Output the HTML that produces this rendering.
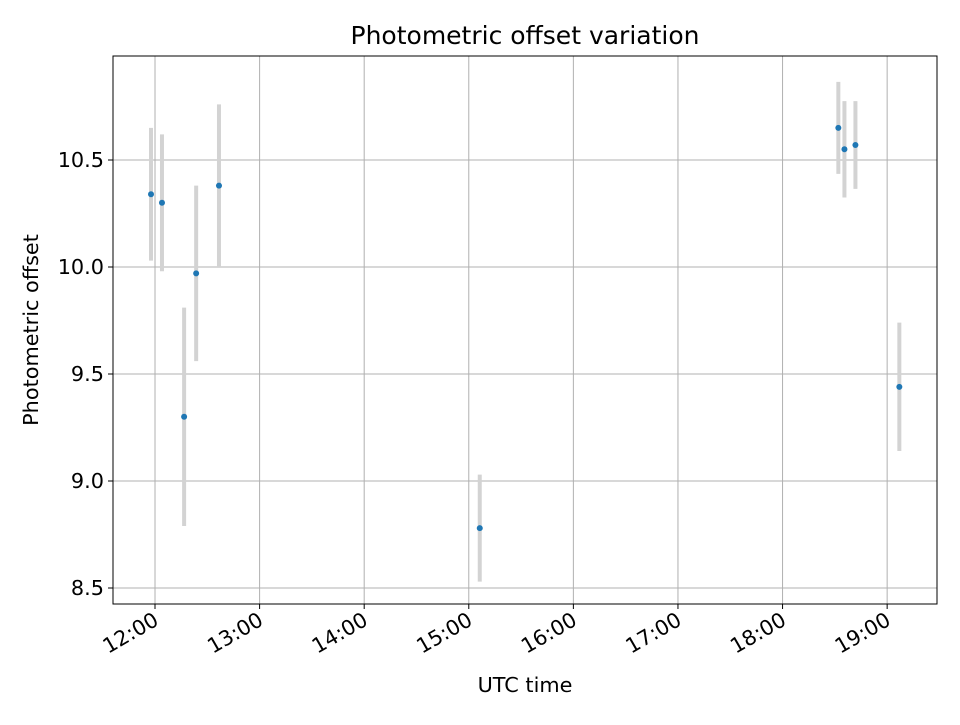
<!DOCTYPE html>
<html><head><meta charset="utf-8"><style>
body{margin:0;background:#fff}
text{font-family:"DejaVu Sans","Liberation Sans",sans-serif;fill:#000}
.tl{font-size:20.8px}
.tt{font-size:25px}
</style></head><body>
<svg id="chart" width="960" height="720" xmlns="http://www.w3.org/2000/svg">
<rect width="960" height="720" fill="#fff"/>
<text class="tt" x="525" y="44" text-anchor="middle">Photometric offset variation</text>
<g id="grid"></g><g id="marks"></g><g id="axes"></g>
<text class="tl" x="525" y="692" text-anchor="middle">UTC time</text>
<text class="tl" transform="translate(38,330) rotate(-90)" text-anchor="middle">Photometric offset</text>
</svg>
<script>
// minutes after 12:00 UTC
const times=[-2.3,4,16.7,23.6,36.7,186.3,392,395.5,401.8,427];
const values=[10.34,10.30,9.30,9.97,10.38,8.78,10.65,10.55,10.57,9.44];
const errors=[0.31,0.32,0.51,0.41,0.38,0.25,0.215,0.225,0.205,0.30];
const xTicks=[0,60,120,180,240,300,360,420];
const xTickLabels=["12:00","13:00","14:00","15:00","16:00","17:00","18:00","19:00"];
const yTicks=[8.5,9.0,9.5,10.0,10.5];
const yTickLabels=["8.5","9.0","9.5","10.0","10.5"];
const L=113,R=937,T=56,B=604;
const xMin=-24.1,xMax=448.6;
const x=m=>L+(m-xMin)/(xMax-xMin)*(R-L);
const y=v=>267-(v-10)*214;
const NS="http://www.w3.org/2000/svg";
function mk(tag,attrs,parent){const e=document.createElementNS(NS,tag);for(const k in attrs)e.setAttribute(k,attrs[k]);document.getElementById(parent).appendChild(e);return e;}
xTicks.forEach((t,i)=>{
 const g=mk('line',{x1:x(t),x2:x(t),y1:T,y2:B,stroke:'#b0b0b0','stroke-width':1},'grid');
 
 
 const tk=mk('line',{x1:x(t),x2:x(t),y1:B,y2:B+5,stroke:'#000','stroke-width':1},'axes');
 
 
 const lb=mk('text',{x:0,y:0,class:'tl','text-anchor':'end',transform:`translate(${x(t)+5},${B+20}) rotate(-30)`},'axes');
 lb.textContent=xTickLabels[i];
 
 
});
yTicks.forEach((v,i)=>{
 const g=mk('line',{x1:L,x2:R,y1:y(v),y2:y(v),stroke:'#b0b0b0','stroke-width':1},'grid');
 
 
 const tk=mk('line',{x1:L-5,x2:L,y1:y(v),y2:y(v),stroke:'#000','stroke-width':1},'axes');
 
 
 const lb=mk('text',{x:L-9,y:y(v)+7,class:'tl','text-anchor':'end'},'axes');
 lb.textContent=yTickLabels[i];
 
 
});
const fr=mk('rect',{x:L,y:T,width:R-L,height:B-T,fill:'none',stroke:'#000','stroke-width':1},'axes');


times.forEach((t,i)=>{
 const eb=mk('line',{x1:x(t),x2:x(t),y1:y(values[i]+errors[i]),y2:y(values[i]-errors[i]),stroke:'#d3d3d3','stroke-width':4},'marks');
 
 
});
times.forEach((t,i)=>{
 const p=mk('circle',{cx:x(t),cy:y(values[i]),r:3,fill:'#1f77b4'},'marks');
 
 
});
</script>
</body></html>
